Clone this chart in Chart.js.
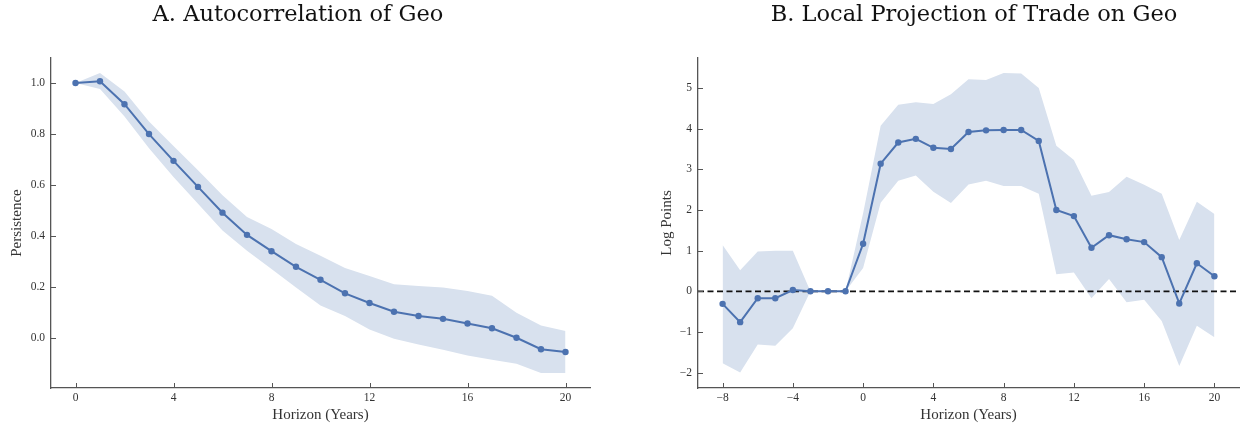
<!DOCTYPE html>
<html>
<head>
<meta charset="utf-8">
<script src="https://cdn.jsdelivr.net/npm/chart.js@4.4.1/dist/chart.umd.min.js"></script>
<style>
  body { margin: 0; background: #fff; }
  #wrap { position: relative; width: 1244px; height: 431px; }
  .panel { position: absolute; top: 0; }
  .ttl { position: absolute; top: 0px; font-family: "DejaVu Serif", serif; font-size: 22.5px; color: #111; white-space: nowrap; transform: translateX(-50%); }
</style>
</head>
<body>
<div id="wrap">
  <canvas id="chartA" class="panel" width="622" height="431" style="left:0"></canvas>
  <canvas id="chartB" class="panel" width="622" height="431" style="left:622px"></canvas>
  <div class="ttl" style="left:298px">A. Autocorrelation of Geo</div>
  <div class="ttl" style="left:974px">B. Local Projection of Trade on Geo</div>
</div>
<script>
// Panel A: autocorrelation
const horizonA = [0, 1, 2, 3, 4, 5, 6, 7, 8, 9, 10, 11, 12, 13, 14, 15, 16, 17, 18, 19, 20];
const persistence = [1.0, 1.007, 0.917, 0.800, 0.695, 0.593, 0.492, 0.405, 0.341, 0.280, 0.229, 0.176, 0.138, 0.104, 0.087, 0.076, 0.058, 0.039, 0.002, -0.043, -0.054];
const persistenceHi = [1.0, 1.039, 0.967, 0.849, 0.753, 0.658, 0.560, 0.475, 0.428, 0.369, 0.323, 0.275, 0.244, 0.212, 0.205, 0.199, 0.185, 0.166, 0.100, 0.050, 0.028];
const persistenceLo = [1.0, 0.977, 0.869, 0.744, 0.632, 0.527, 0.422, 0.343, 0.271, 0.199, 0.128, 0.087, 0.034, -0.002, -0.025, -0.045, -0.068, -0.084, -0.100, -0.136, -0.136];
const xTicksA = [0, 4, 8, 12, 16, 20];
const yTicksA = [0.0, 0.2, 0.4, 0.6, 0.8, 1.0];

// Panel B: local projection
const horizonB = [-8, -7, -6, -5, -4, -3, -2, -1, 0, 1, 2, 3, 4, 5, 6, 7, 8, 9, 10, 11, 12, 13, 14, 15, 16, 17, 18, 19, 20];
const logPoints = [-0.31, -0.76, -0.17, -0.17, 0.03, 0, 0, 0, 1.17, 3.14, 3.66, 3.75, 3.53, 3.50, 3.92, 3.96, 3.97, 3.97, 3.70, 2.00, 1.85, 1.07, 1.38, 1.28, 1.21, 0.84, -0.30, 0.69, 0.37];
const logPointsHi = [1.14, 0.52, 0.98, 1.0, 1.0, 0, 0, 0, 1.92, 4.07, 4.59, 4.65, 4.61, 4.85, 5.22, 5.20, 5.37, 5.36, 5.00, 3.58, 3.23, 2.35, 2.44, 2.82, 2.62, 2.40, 1.26, 2.20, 1.90];
const logPointsLo = [-1.77, -2.00, -1.31, -1.34, -0.91, 0, 0, 0, 0.57, 2.18, 2.72, 2.85, 2.45, 2.17, 2.63, 2.72, 2.59, 2.59, 2.40, 0.42, 0.46, -0.17, 0.30, -0.27, -0.21, -0.73, -1.84, -0.85, -1.13];
const xTicksB = [-8, -4, 0, 4, 8, 12, 16, 20];
const yTicksB = [-2, -1, 0, 1, 2, 3, 4, 5];
const xRangeB = [-9.4, 21.4];

const lineColor = 'rgb(76, 114, 176)';
const bandColor = 'rgb(216, 225, 238)';
const axisColor = '#555';
const serif = '"Liberation Serif", "Times New Roman", serif';

const pts = (xs, ys) => xs.map((x, i) => ({ x: x, y: ys[i] }));
const minus = v => String(v).replace('-', '\u2212');

// inward tick marks, matplotlib style
const inwardTicks = {
    id: 'inwardTicks',
    afterDraw(chart) {
        const { ctx, chartArea, scales } = chart;
        ctx.save();
        ctx.strokeStyle = axisColor;
        ctx.lineWidth = 1;
        scales.x.ticks.forEach(t => {
            const px = Math.round(scales.x.getPixelForValue(t.value)) + 0.5;
            ctx.beginPath();
            ctx.moveTo(px, chartArea.bottom);
            ctx.lineTo(px, chartArea.bottom - 5);
            ctx.stroke();
        });
        scales.y.ticks.forEach(t => {
            const py = Math.round(scales.y.getPixelForValue(t.value)) + 0.5;
            ctx.beginPath();
            ctx.moveTo(chartArea.left, py);
            ctx.lineTo(chartArea.left + 5, py);
            ctx.stroke();
        });
        ctx.restore();
    }
};

function makeChart(id, cfg) {
    const xs = cfg.xs;
    const datasets = [
        { data: pts(xs, cfg.y), borderColor: lineColor, backgroundColor: lineColor, borderWidth: 2,
          pointRadius: 3.2, pointBackgroundColor: lineColor, pointBorderWidth: 0, order: 0 },
        { data: pts(xs, cfg.hi), borderWidth: 0, pointRadius: 0, fill: '+1', backgroundColor: bandColor, order: 3 },
        { data: pts(xs, cfg.lo), borderWidth: 0, pointRadius: 0, fill: false, order: 4 }
    ];
    if (cfg.zeroLine) {
        datasets.push({ data: pts(cfg.xMinMax, [0, 0]), borderColor: '#111', borderWidth: 1.8,
            borderDash: [6, 3.5], pointRadius: 0, order: 1 });
    }
    return new Chart(document.getElementById(id), {
        type: 'line',
        data: { datasets: datasets },
        plugins: [inwardTicks],
        options: {
            responsive: false,
            animation: false,
            layout: { padding: { left: 0, right: cfg.padRight, top: 58, bottom: 0 } },
            plugins: { legend: { display: false }, tooltip: { enabled: false } },
            scales: {
                x: {
                    type: 'linear', min: cfg.xMinMax[0], max: cfg.xMinMax[1],
                    afterBuildTicks: s => { s.ticks = cfg.xTicks.map(v => ({ value: v })); },
                    afterFit: s => { s.height = 43; },
                    grid: { display: false, drawTicks: false },
                    border: { display: true, color: axisColor, width: 1.3 },
                    ticks: { color: '#333', font: { family: serif, size: 11.5 }, padding: 3,
                             maxRotation: 0, callback: v => minus(v) },
                    title: { display: true, text: 'Horizon (Years)', color: '#333',
                             font: { family: serif, size: 15 }, padding: { top: 0, bottom: 7 } }
                },
                y: {
                    type: 'linear', min: cfg.yMinMax[0], max: cfg.yMinMax[1],
                    afterBuildTicks: s => { s.ticks = cfg.yTicks.map(v => ({ value: v })); },
                    afterFit: s => { s.width = cfg.yWidth; },
                    grid: { display: false, drawTicks: false },
                    border: { display: true, color: axisColor, width: 1.3 },
                    ticks: { color: '#333', font: { family: serif, size: 11.5 }, padding: 6,
                             callback: cfg.yFormat },
                    title: { display: true, text: cfg.yTitle, color: '#333',
                             font: { family: serif, size: 15 }, padding: { top: cfg.yTitlePad, bottom: 0 } }
                }
            }
        }
    });
}

makeChart('chartA', {
    xs: horizonA, y: persistence, hi: persistenceHi, lo: persistenceLo,
    xTicks: xTicksA, yTicks: yTicksA, xMinMax: [-1, 21], yMinMax: [-0.195, 1.098],
    yWidth: 51, padRight: 32, yTitle: 'Persistence', yTitlePad: 8,
    yFormat: v => v.toFixed(1)
});

makeChart('chartB', {
    xs: horizonB, y: logPoints, hi: logPointsHi, lo: logPointsLo,
    xTicks: xTicksB, yTicks: yTicksB, xMinMax: xRangeB, yMinMax: [-2.38, 5.74],
    yWidth: 76, padRight: 5, yTitle: 'Log Points', yTitlePad: 36, zeroLine: true,
    yFormat: v => minus(v)
});
</script>
</body>
</html>
